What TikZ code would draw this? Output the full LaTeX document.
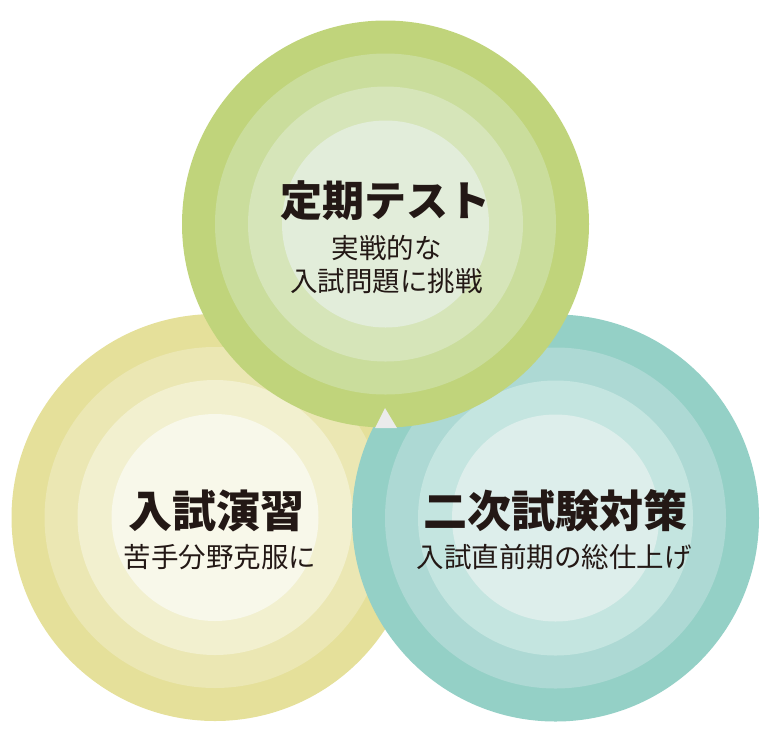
\documentclass[tikz,border=0pt]{standalone}
\usepackage{fontspec}
\newfontfamily\jp{Noto Sans CJK JP}
\newfontfamily\jpblack{Noto Sans CJK JP Black}
\definecolor{txt}{HTML}{231815}
\definecolor{gA}{HTML}{C0D47B}
\definecolor{gB}{HTML}{CADD9C}
\definecolor{gC}{HTML}{D6E5B9}
\definecolor{gD}{HTML}{E2EDDA}
\definecolor{yA}{HTML}{E5E09A}
\definecolor{yB}{HTML}{EBE7B3}
\definecolor{yC}{HTML}{F2F0CF}
\definecolor{yD}{HTML}{F8F8EA}
\definecolor{tA}{HTML}{94D0C6}
\definecolor{tB}{HTML}{ADD9D4}
\definecolor{tC}{HTML}{C4E5E0}
\definecolor{tD}{HTML}{DDEEEB}
\definecolor{gap}{HTML}{EBEBEB}
\begin{document}
\begin{tikzpicture}[x=1pt,y=-1pt,
  ring/.style={circle,inner sep=0pt,minimum size=#1,draw=none},
  ttl/.style={anchor=base,inner sep=0pt,text=txt,font=\jpblack\fontsize{44}{44}\selectfont},
  sub/.style={anchor=base,inner sep=0pt,text=txt,font=\jp\fontsize{27.5}{33}\selectfont}]
\useasboundingbox (0,0) rectangle (770,732);
% yellow (bottom layer)
\node[ring=407pt,fill=yA] (y1) at (215,517.5) {};
\node[ring=341pt,fill=yB] (y2) at (215,517.5) {};
\node[ring=275pt,fill=yC] (y3) at (215,517.5) {};
\node[ring=207pt,fill=yD] (y4) at (215,517.5) {};
% teal
\node[ring=407pt,fill=tA] (t1) at (555.5,518) {};
\node[ring=341pt,fill=tB] (t2) at (555.5,518) {};
\node[ring=275pt,fill=tC] (t3) at (555.5,518) {};
\node[ring=207pt,fill=tD] (t4) at (555.5,518) {};
% green (top layer)
\node[ring=407pt,fill=gA] (g1) at (385.5,224) {};
\node[ring=341pt,fill=gB] (g2) at (385.5,224) {};
\node[ring=275pt,fill=gC] (g3) at (385.5,224) {};
\node[ring=207pt,fill=gD] (g4) at (385.5,224) {};
% small gap between the three
\fill[gap] (385,408) -- (397,428) -- (375,428) -- cycle;
% texts
\node[ttl,font=\jpblack\fontsize{42}{42}\selectfont] (gt) at (385.5,216.5) {定期テスト};
\node[sub] (gs1) at (386.5,258.5) {実戦的な};
\node[sub] (gs2) at (386.5,291.5) {入試問題に挑戦};
\node[ttl] (yt) at (216,527) {入試演習};
\node[sub] (ys) at (220,567) {苦手分野克服に};
\node[ttl] (tt) at (555,527) {二次試験対策};
\node[sub] (ts) at (554,567) {入試直前期の総仕上げ};
\end{tikzpicture}
\end{document}
